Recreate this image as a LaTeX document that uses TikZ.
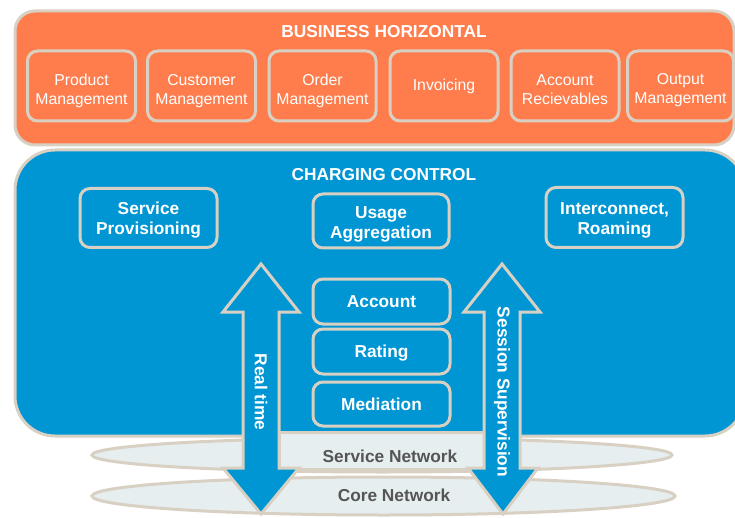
\documentclass[tikz,border=0pt]{standalone}
\usepackage{fontspec}
\setmainfont{Liberation Sans}
\definecolor{orng}{HTML}{FF7D4D}
\definecolor{blu}{HTML}{0096D4}
\definecolor{bge}{HTML}{D8D0C2}
\definecolor{lite}{HTML}{E6EEF0}
\definecolor{dgray}{HTML}{555555}
\newcommand\lowtxt[1]{\rule{0pt}{#1}}
\tikzset{
  panel/.style={draw=bge, line width=3pt},
  obox/.style={draw=bge, line width=3pt, fill=orng, rounded corners=10pt, text=white,
    align=center, font=\fontsize{15.8}{19}\selectfont, inner sep=0pt},
  bbox/.style={draw=bge, line width=3pt, fill=blu, rounded corners=10pt, text=white,
    align=center, font=\fontsize{17.3}{20}\selectfont\bfseries, inner sep=0pt},
  ttl/.style={text=white, font=\fontsize{17.3}{20}\selectfont\bfseries},
  ell/.style={draw=bge, line width=3pt, fill=lite},
  netlbl/.style={text=dgray, font=\fontsize{17.3}{20}\selectfont\bfseries},
  arr/.style={draw=bge, line width=3pt, fill=blu, line join=miter},
  arrlbl/.style={text=white, font=\fontsize{17.3}{20}\selectfont\bfseries, rotate=-90}
}
\begin{document}
\begin{tikzpicture}[x=1pt,y=-1pt]
\useasboundingbox (0,0) rectangle (735,518);
% network ellipses
\draw[ell] (383.5,496) ellipse [x radius=291.5pt, y radius=19pt];
\draw[ell] (382,455) ellipse [x radius=290pt, y radius=17pt];
% business horizontal panel
\draw[panel, fill=orng, rounded corners=20pt] (15,11) rectangle (734,145);
\node[ttl] (bh) at (384,31.5) {BUSINESS HORIZONTAL};
\node[obox, minimum width=108pt, minimum height=70pt] (pm) at (81.5,86) {\lowtxt{21.5pt}Product\\Management};
\node[obox, minimum width=108pt, minimum height=70pt] (cm) at (201.5,86) {\lowtxt{21.5pt}Customer\\Management};
\node[obox, minimum width=107pt, minimum height=70pt] (om) at (322.5,86) {\lowtxt{20.5pt}Order\\Management};
\node[obox, minimum width=108pt, minimum height=70pt] (inv) at (444,86) {Invoicing};
\node[obox, minimum width=108pt, minimum height=70pt] (ar) at (565,86) {\lowtxt{17.5pt}Account\\Recievables};
\node[obox, minimum width=106pt, minimum height=70pt] (out) at (680.5,86) {\lowtxt{18.5pt}Output\\Management};
% charging control panel
\draw[panel, fill=blu, rounded corners=40pt] (15,150) rectangle (745,436);
\node[ttl] (cc) at (384,174.5) {CHARGING CONTROL};
\node[bbox, minimum width=137pt, minimum height=59pt] (sp) at (148.5,218) {\lowtxt{17.5pt}Service\\Provisioning};
\node[bbox, minimum width=136pt, minimum height=54pt] (ua) at (381,221) {\lowtxt{19.5pt}Usage\\Aggregation};
\node[bbox, minimum width=137pt, minimum height=60pt] (ir) at (614.5,217.5) {\lowtxt{18.5pt}Interconnect,\\Roaming};
\node[bbox, minimum width=137pt, minimum height=45pt] (acc) at (381.5,301.5) {Account};
\node[bbox, minimum width=137pt, minimum height=45pt, text depth=0pt] (rat) at (381.5,351.5) {Rating};
\node[bbox, minimum width=137pt, minimum height=44pt] (med) at (381.5,404) {Mediation};
% service network strip
\draw[draw=bge, line width=3pt, fill=lite] (279,432) rectangle (484,469);
\node[netlbl] (sn) at (390,456) {Service Network};
\node[netlbl] (cn) at (394,495.5) {Core Network};
% real time arrow
\draw[arr] (261,264) -- (299,312) -- (279,312) -- (279,468) -- (299,468) -- (261,514)
  -- (223,468) -- (243,468) -- (243,312) -- (223,312) -- cycle;
\node[arrlbl] (rt) at (261,392) {Real time};
% session supervision arrow
\draw[arr] (502,264) -- (540,312) -- (520,312) -- (520,468) -- (538,468) -- (503,514)
  -- (468,468) -- (484,468) -- (484,312) -- (464,312) -- cycle;
\node[arrlbl] (ss) at (502,392) {Session Supervision};
\end{tikzpicture}
\end{document}
